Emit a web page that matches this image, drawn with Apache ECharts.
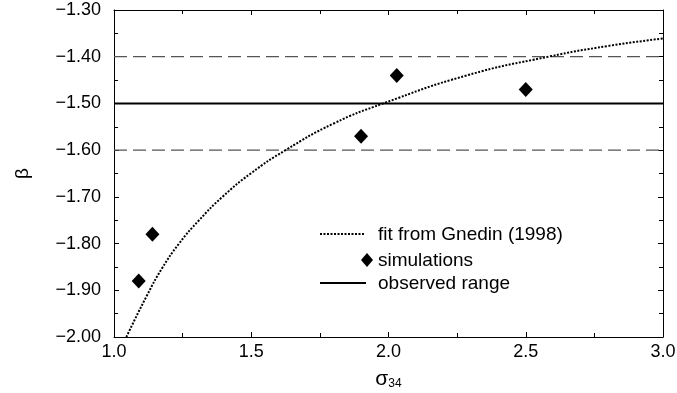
<!DOCTYPE html>
<html>
<head>
<meta charset="utf-8">
<script src="https://cdn.jsdelivr.net/npm/echarts@6/dist/echarts.min.js"></script>
<style>html,body{margin:0;padding:0;background:#fff}#c{width:677px;height:393px}</style>
</head>
<body>
<div id="c"></div>
<script>
// Data
var fitX = [1.045, 1.121, 1.175, 1.237, 1.31, 1.395, 1.498, 1.625, 1.80, 1.981, 2.285, 2.582, 2.80, 3.00];
var fitY = [-2.00, -1.91, -1.853, -1.80, -1.75, -1.70, -1.65, -1.60, -1.543, -1.50, -1.44, -1.40, -1.377, -1.361];
var simX = [1.09, 1.14, 1.90, 2.03, 2.50];
var simY = [-1.88, -1.78, -1.57, -1.44, -1.47];
var observedLevel = -1.50;
var rangeBounds = [-1.40, -1.60];
var xRange = [1.0, 3.0];
var yRange = [-2.0, -1.3];

var FONT = 'Liberation Sans';
function pairs(xs, ys) { return xs.map(function (x, i) { return [x, ys[i]]; }); }
function hline(y) { return [[xRange[0], y], [xRange[1], y]]; }

var chart = echarts.init(document.getElementById('c'), null, { renderer: 'canvas' });
var axisCommon = {
  axisLine: { show: true, onZero: false, lineStyle: { color: '#000', width: 1 } },
  axisTick: { show: true, inside: true, length: 5, lineStyle: { color: '#000' } },
  minorTick: { show: true, splitNumber: 2, length: 4, lineStyle: { color: '#000' } },
  splitLine: { show: false }
};
var option = {
  animation: false,
  backgroundColor: '#fff',
  grid: { left: 114, right: 14, top: 10, bottom: 56, containLabel: false, outerBoundsMode: 'none' },
  xAxis: [
    Object.assign({}, axisCommon, {
      type: 'value', min: xRange[0], max: xRange[1], interval: 0.5, position: 'bottom',
      axisLabel: { color: '#000', fontFamily: FONT, fontSize: 18, margin: 6,
        formatter: function (v) { return v.toFixed(1); } },
      name: '{s|σ}{sub|34}', nameLocation: 'middle', nameGap: 31,
      nameTextStyle: { rich: {
        s: { fontFamily: FONT, fontSize: 21, color: '#000' },
        sub: { fontFamily: FONT, fontSize: 12, color: '#000', verticalAlign: 'bottom', padding: [10, 0, 0, 0] }
      } }
    }),
    Object.assign({}, axisCommon, {
      type: 'value', min: xRange[0], max: xRange[1], interval: 0.5, position: 'top',
      axisLabel: { show: false }
    })
  ],
  yAxis: [
    Object.assign({}, axisCommon, {
      type: 'value', min: yRange[0], max: yRange[1], interval: 0.1, position: 'left',
      axisLabel: { color: '#000', fontFamily: FONT, fontSize: 18, margin: 13,
        formatter: function (v) { return v.toFixed(2).replace('-', '\u2212'); } },
      name: 'β', nameLocation: 'middle', nameGap: 82, nameRotate: 90,
      nameTextStyle: { fontFamily: FONT, fontSize: 19, color: '#000' }
    }),
    Object.assign({}, axisCommon, {
      type: 'value', min: yRange[0], max: yRange[1], interval: 0.1, position: 'right',
      axisLabel: { show: false }
    })
  ],
  series: [
    { name: 'upper', type: 'line', data: hline(rangeBounds[0]), symbol: 'none', silent: true,
      lineStyle: { color: '#555', width: 1.3, type: [13, 6] } },
    { name: 'lower', type: 'line', data: hline(rangeBounds[1]), symbol: 'none', silent: true,
      lineStyle: { color: '#555', width: 1.3, type: [13, 6] } },
    { name: 'observed range', type: 'line', data: hline(observedLevel), symbol: 'none', silent: true,
      lineStyle: { color: '#000', width: 2 } },
    { name: 'fit from Gnedin (1998)', type: 'line', data: pairs(fitX, fitY), smooth: 0.5, symbol: 'none',
      lineStyle: { color: '#000', width: 2, type: [2, 1.5] } },
    { name: 'simulations', type: 'scatter', data: pairs(simX, simY), symbol: 'diamond', symbolSize: [14, 15],
      itemStyle: { color: '#000', opacity: 1 } }
  ],
  graphic: [
    { type: 'line', shape: { x1: 320, y1: 234, x2: 365, y2: 234 }, style: { stroke: '#000', lineWidth: 2, lineDash: [2, 1.5] } },
    { type: 'text', x: 378, y: 235, style: { text: 'fit from Gnedin (1998)', font: '19px "Liberation Sans"', fill: '#000', verticalAlign: 'middle' } },
    { type: 'polygon', shape: { points: [[367, 253], [373, 260], [367, 267], [361, 260]] }, style: { fill: '#000' } },
    { type: 'text', x: 378, y: 261, style: { text: 'simulations', font: '19px "Liberation Sans"', fill: '#000', verticalAlign: 'middle' } },
    { type: 'line', shape: { x1: 320, y1: 283, x2: 366, y2: 283 }, style: { stroke: '#000', lineWidth: 2 } },
    { type: 'text', x: 378, y: 284, style: { text: 'observed range', font: '19px "Liberation Sans"', fill: '#000', verticalAlign: 'middle' } }
  ]
};
chart.setOption(option);
</script>
</body>
</html>
